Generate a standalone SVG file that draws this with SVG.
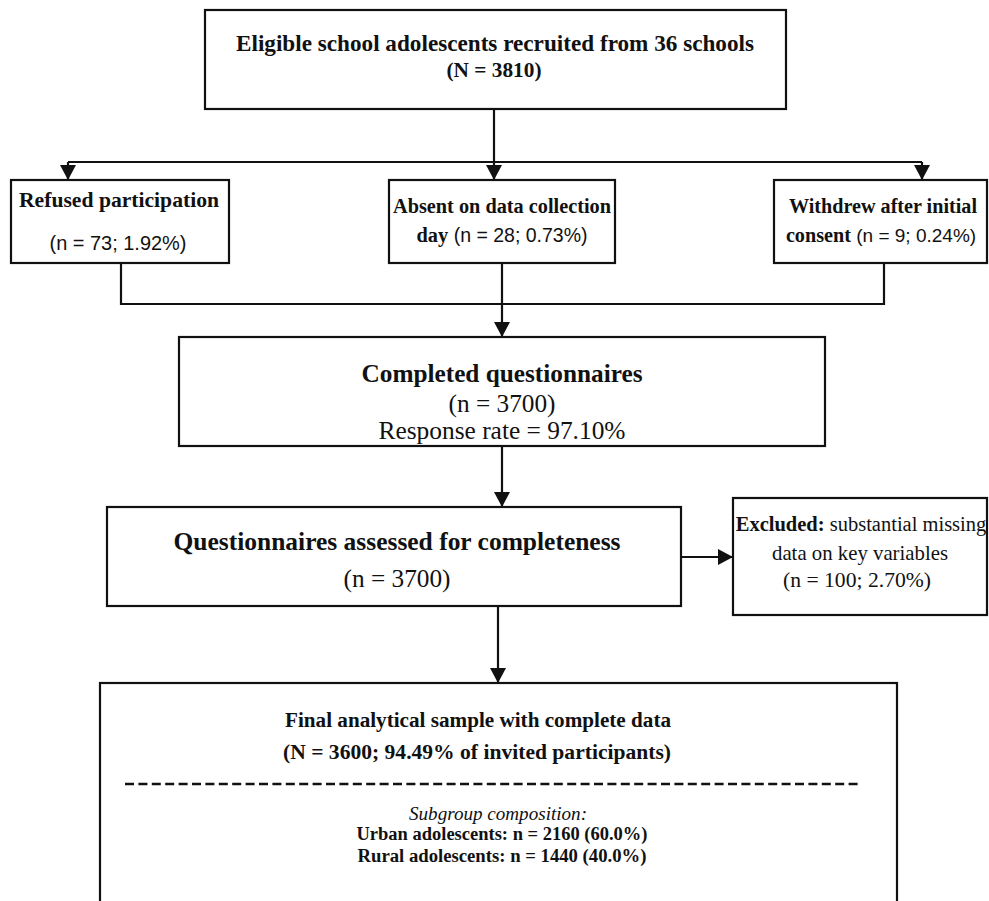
<svg xmlns="http://www.w3.org/2000/svg" width="989" height="901" viewBox="0 0 989 901">
<style>
.box{fill:#fff;stroke:#111;stroke-width:2.2}
.ln{fill:none;stroke:#111;stroke-width:2.2}
.t{font-family:"Liberation Serif","Times New Roman",serif;fill:#111;text-anchor:middle}
.b{font-weight:bold}
.s{font-family:"Liberation Sans",Arial,sans-serif;font-weight:normal}
</style>
<defs>
<marker id="ah" markerWidth="15" markerHeight="16" refX="15" refY="8" orient="auto" markerUnits="userSpaceOnUse">
<path d="M0,0 L15,8 L0,16 Z" fill="#111"/>
</marker>
</defs>
<rect width="989" height="901" fill="#fff"/>
<g id="connectors">
<path class="ln" d="M494,109 V180" marker-end="url(#ah)"/>
<path class="ln" d="M68,162 H922"/>
<path class="ln" d="M68,162 V180" marker-end="url(#ah)"/>
<path class="ln" d="M922,162 V180" marker-end="url(#ah)"/>
<path class="ln" d="M121,263 V304 H884 V263"/>
<path class="ln" d="M502,263 V337" marker-end="url(#ah)"/>
<path class="ln" d="M502,446 V507" marker-end="url(#ah)"/>
<path class="ln" d="M681,557 H733" marker-end="url(#ah)"/>
<path class="ln" d="M498,606 V683" marker-end="url(#ah)"/>
</g>
<g id="n-eligible">
<rect class="box" x="205" y="10" width="581" height="99"/>
<text class="t b" x="495" y="51" font-size="23" textLength="518" lengthAdjust="spacingAndGlyphs">Eligible school adolescents recruited from 36 schools</text>
<text class="t b" x="494" y="77" font-size="21" textLength="95" lengthAdjust="spacingAndGlyphs">(N = 3810)</text>
</g>
<g id="n-refused">
<rect class="box" x="11" y="180" width="218" height="83"/>
<text class="t b" x="119" y="207" font-size="21.8" textLength="200" lengthAdjust="spacingAndGlyphs">Refused participation</text>
<text class="t s" x="118" y="250" font-size="20.5" textLength="137" lengthAdjust="spacingAndGlyphs">(n = 73; 1.92%)</text>
</g>
<g id="n-absent">
<rect class="box" x="389" y="180" width="226" height="83"/>
<text class="t b" x="502" y="213" font-size="20.4" textLength="218" lengthAdjust="spacingAndGlyphs">Absent on data collection</text>
<text class="t" x="502" y="242" font-size="19.5"><tspan class="b" font-size="20.4">day</tspan><tspan class="s"> (n = 28; 0.73%)</tspan></text>
</g>
<g id="n-withdrew">
<rect class="box" x="774" y="180" width="213" height="83"/>
<text class="t b" x="883" y="213" font-size="20.2" textLength="188" lengthAdjust="spacingAndGlyphs">Withdrew after initial</text>
<text class="t" x="881" y="242" font-size="19"><tspan class="b" font-size="20.2">consent</tspan><tspan class="s"> (n = 9; 0.24%)</tspan></text>
</g>
<g id="n-completed">
<rect class="box" x="179" y="337" width="646" height="109"/>
<text class="t b" x="502" y="382" font-size="25" textLength="281" lengthAdjust="spacingAndGlyphs">Completed questionnaires</text>
<text class="t" x="502" y="412" font-size="25" textLength="107" lengthAdjust="spacingAndGlyphs">(n = 3700)</text>
<text class="t" x="502" y="439" font-size="25" textLength="247" lengthAdjust="spacingAndGlyphs">Response rate = 97.10%</text>
</g>
<g id="n-assessed">
<rect class="box" x="107" y="507" width="574" height="99"/>
<text class="t b" x="397" y="550" font-size="25.5" textLength="447" lengthAdjust="spacingAndGlyphs">Questionnaires assessed for completeness</text>
<text class="t" x="397" y="587" font-size="25" textLength="107" lengthAdjust="spacingAndGlyphs">(n = 3700)</text>
</g>
<g id="n-excluded">
<rect class="box" x="733" y="498" width="254" height="117"/>
<text class="t" x="861" y="531" font-size="20.5"><tspan class="b">Excluded:</tspan> substantial missing</text>
<text class="t" x="860" y="560" font-size="22" textLength="176" lengthAdjust="spacingAndGlyphs">data on key variables</text>
<text class="t" x="857" y="587" font-size="22" textLength="148" lengthAdjust="spacingAndGlyphs">(n = 100; 2.70%)</text>
</g>
<g id="n-final">
<rect class="box" x="100" y="683" width="797" height="240"/>
<text class="t b" x="478" y="727" font-size="21.2" textLength="386" lengthAdjust="spacingAndGlyphs">Final analytical sample with complete data</text>
<text class="t b" x="477" y="759" font-size="21.5" textLength="388" lengthAdjust="spacingAndGlyphs">(N = 3600; 94.49% of invited participants)</text>
<path d="M125,784 H862" stroke="#111" stroke-width="2.5" stroke-dasharray="9,4.4" fill="none"/>
<text class="t" x="498" y="820" font-size="19.4" font-style="italic" textLength="178" lengthAdjust="spacingAndGlyphs">Subgroup composition:</text>
<text class="t b" x="502" y="840" font-size="18.6" textLength="291" lengthAdjust="spacingAndGlyphs">Urban adolescents: n = 2160 (60.0%)</text>
<text class="t b" x="502" y="862" font-size="18.6" textLength="289" lengthAdjust="spacingAndGlyphs">Rural adolescents: n = 1440 (40.0%)</text>
</g>
</svg>
